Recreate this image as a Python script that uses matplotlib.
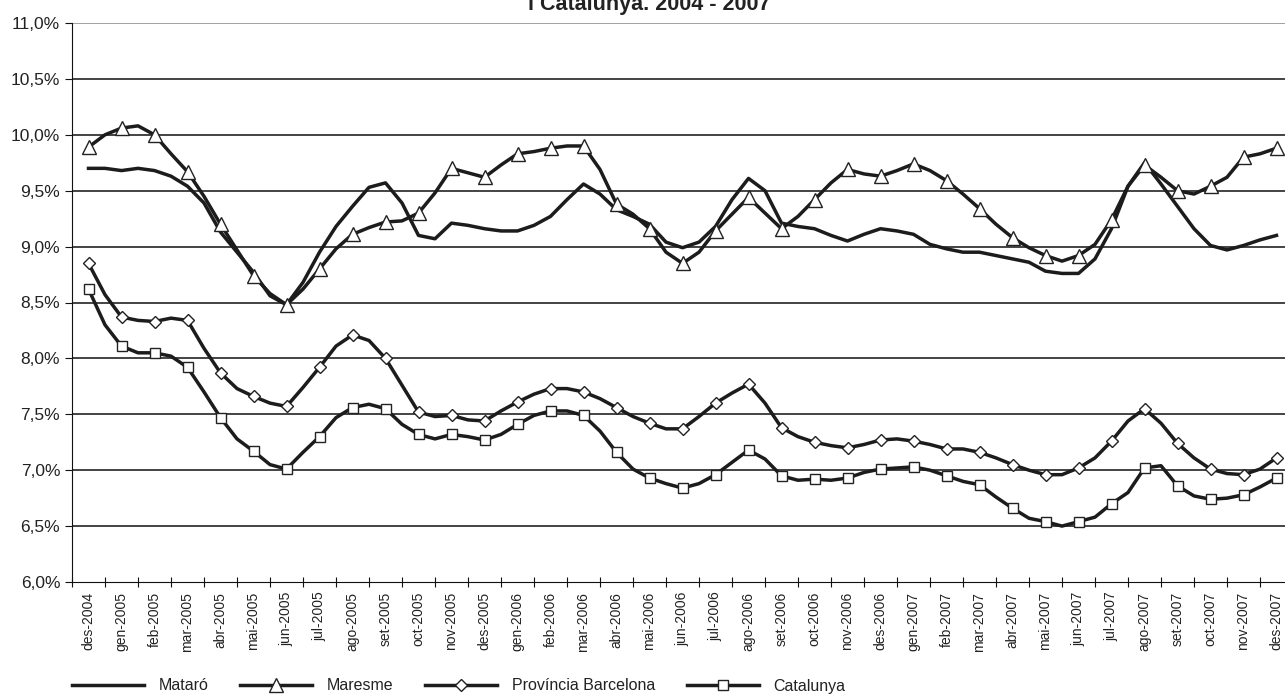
import matplotlib
matplotlib.use("Agg")
import matplotlib.pyplot as plt
import numpy as np

plt.rcParams['font.family'] = ['Liberation Sans', 'DejaVu Sans']

months = ["des-2004", "gen-2005", "feb-2005", "mar-2005", "abr-2005", "mai-2005", "jun-2005",
          "jul-2005", "ago-2005", "set-2005", "oct-2005", "nov-2005", "des-2005", "gen-2006",
          "feb-2006", "mar-2006", "abr-2006", "mai-2006", "jun-2006", "jul-2006", "ago-2006",
          "set-2006", "oct-2006", "nov-2006", "des-2006", "gen-2007", "feb-2007", "mar-2007",
          "abr-2007", "mai-2007", "jun-2007", "jul-2007", "ago-2007", "set-2007", "oct-2007",
          "nov-2007", "des-2007"]

# semi-monthly readings (month, mid-month, month, ...), in %
mataro = [9.70, 9.70, 9.68, 9.70, 9.68, 9.63, 9.54, 9.39, 9.13, 8.95, 8.77, 8.56, 8.48, 8.68,
          8.95, 9.18, 9.36, 9.53, 9.57, 9.39, 9.10, 9.07, 9.21, 9.19, 9.16, 9.14, 9.14, 9.19,
          9.27, 9.42, 9.56, 9.47, 9.33, 9.27, 9.20, 9.04, 8.99, 9.04, 9.18, 9.42, 9.61, 9.50,
          9.21, 9.18, 9.16, 9.10, 9.05, 9.11, 9.16, 9.14, 9.11, 9.02, 8.98, 8.95, 8.95, 8.92,
          8.89, 8.86, 8.78, 8.76, 8.76, 8.89, 9.16, 9.54, 9.75, 9.56, 9.36, 9.16, 9.01, 8.97,
          9.01, 9.06, 9.10]
maresme = [9.89, 10.00, 10.06, 10.08, 10.00, 9.83, 9.67, 9.45, 9.20, 8.97, 8.74, 8.58, 8.48, 8.62,
           8.80, 8.98, 9.11, 9.17, 9.22, 9.23, 9.30, 9.48, 9.70, 9.66, 9.62, 9.73, 9.83, 9.85,
           9.88, 9.90, 9.90, 9.69, 9.38, 9.29, 9.16, 8.95, 8.85, 8.95, 9.14, 9.29, 9.44, 9.30,
           9.16, 9.27, 9.42, 9.57, 9.69, 9.65, 9.63, 9.68, 9.74, 9.68, 9.59, 9.47, 9.34, 9.20,
           9.08, 8.99, 8.92, 8.87, 8.92, 9.02, 9.24, 9.54, 9.73, 9.62, 9.50, 9.47, 9.54, 9.62,
           9.80, 9.83, 9.88]
provincia = [8.85, 8.57, 8.37, 8.34, 8.33, 8.36, 8.34, 8.09, 7.87, 7.73, 7.66, 7.60, 7.57, 7.74,
             7.92, 8.11, 8.21, 8.16, 8.00, 7.76, 7.52, 7.48, 7.49, 7.45, 7.44, 7.53, 7.61, 7.68,
             7.73, 7.73, 7.70, 7.64, 7.56, 7.48, 7.42, 7.37, 7.37, 7.48, 7.60, 7.69, 7.77, 7.60,
             7.38, 7.30, 7.25, 7.22, 7.20, 7.23, 7.27, 7.28, 7.26, 7.23, 7.19, 7.19, 7.16, 7.11,
             7.05, 7.00, 6.96, 6.96, 7.02, 7.11, 7.26, 7.44, 7.55, 7.42, 7.24, 7.11, 7.01, 6.97,
             6.96, 7.01, 7.11]
catalunya = [8.62, 8.30, 8.11, 8.05, 8.05, 8.02, 7.92, 7.70, 7.47, 7.28, 7.17, 7.05, 7.01, 7.16,
             7.30, 7.47, 7.56, 7.59, 7.55, 7.41, 7.32, 7.28, 7.32, 7.30, 7.27, 7.32, 7.41, 7.49,
             7.53, 7.53, 7.49, 7.35, 7.16, 7.01, 6.93, 6.88, 6.84, 6.88, 6.96, 7.07, 7.18, 7.10,
             6.95, 6.91, 6.92, 6.91, 6.93, 6.98, 7.01, 7.02, 7.03, 7.00, 6.95, 6.90, 6.87, 6.76,
             6.66, 6.57, 6.54, 6.50, 6.54, 6.58, 6.70, 6.80, 7.02, 7.04, 6.86, 6.77, 6.74, 6.75,
             6.78, 6.85, 6.93]

yticks = [6.0, 6.5, 7.0, 7.5, 8.0, 8.5, 9.0, 9.5, 10.0, 10.5, 11.0]

fig = plt.figure(figsize=(12.85, 6.99), dpi=100)
ax = fig.add_axes([72 / 1285, 117 / 699, 1221 / 1285, 559 / 699])

x = np.arange(len(mataro)) / 2.0
lc = "#1c1c1c"
ax.plot(x, mataro, color=lc, lw=2.5, label="Mataró", zorder=3)
ax.plot(x, maresme, color=lc, lw=2.5, marker="^", ms=10, mfc="white", mec="#222", mew=1.0,
        markevery=2, label="Maresme", zorder=3)
ax.plot(x, provincia, color=lc, lw=2.5, marker="D", ms=6.5, mfc="white", mec="#222", mew=1.0,
        markevery=2, label="Província Barcelona", zorder=3)
ax.plot(x, catalunya, color=lc, lw=2.5, marker="s", ms=7, mfc="white", mec="#222", mew=1.0,
        markevery=2, label="Catalunya", zorder=3)

ax.set_xlim(-0.5, len(months) - 0.5)
ax.set_ylim(6.0, 11.0)
ax.set_yticks(yticks)
ax.set_yticklabels([f"{v:.1f}%".replace(".", ",") for v in yticks], fontsize=12.5, color="#222")
for v in yticks[1:]:
    ax.axhline(v, color="#111" if v < 11 else "#888", lw=1.1, zorder=1)

ax.set_xticks(np.arange(len(months) + 1) - 0.5)
ax.set_xticklabels([])
ax.set_xticks(np.arange(len(months)), minor=True)
ax.set_xticklabels(months, minor=True, rotation=90, fontsize=10, color="#222")
ax.tick_params(axis="x", which="major", direction="inout", length=7, color="#111")
ax.tick_params(axis="x", which="minor", length=0, pad=7)
ax.tick_params(axis="y", direction="out", length=5, color="#111")
for s in ["top", "right"]:
    ax.spines[s].set_visible(False)
ax.spines["left"].set_color("#111")
ax.spines["bottom"].set_color("#111")

# title is cut off at the top edge in the source picture
fig.text(0.505, 1 - 10 / 699, "i Catalunya. 2004 - 2007", ha="center", va="baseline",
         fontsize=15.5, fontweight="bold", color="#222")

fig.legend(loc="center left", bbox_to_anchor=(58 / 1285, 13 / 699), ncol=4, frameon=False,
           fontsize=11.5, handlelength=4.5, columnspacing=2.0, handletextpad=0.9,
           labelcolor="#222")

fig.savefig("out.png", dpi=100)
